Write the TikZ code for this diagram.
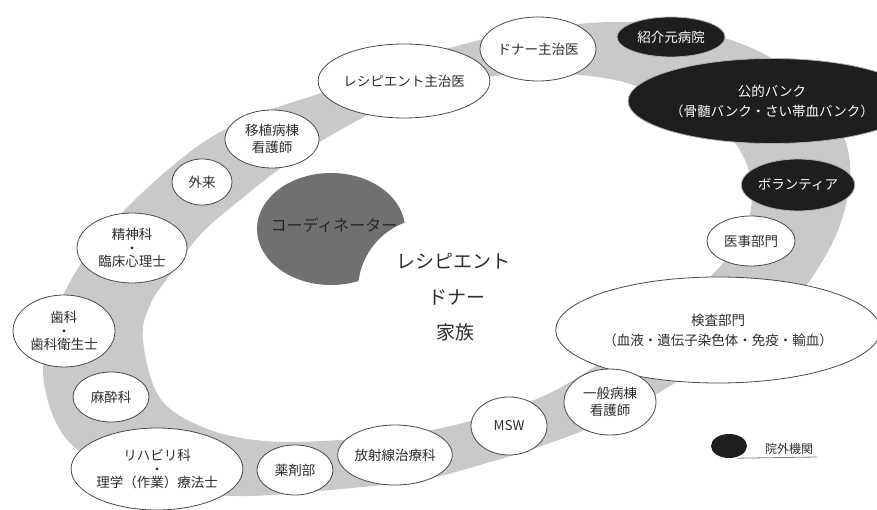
\documentclass[tikz,border=0pt]{standalone}
\usepackage{fontspec}
\newfontfamily\jp{Noto Sans CJK JP}
\usetikzlibrary{shapes.geometric}
\definecolor{bandgray}{HTML}{C9C9C9}
\definecolor{coordgray}{HTML}{707070}
\definecolor{darknode}{HTML}{1E1E1E}
\definecolor{inkgray}{HTML}{2E2E2E}
\definecolor{edgegray}{HTML}{4A4A4A}
\begin{document}
\begin{tikzpicture}[x=1pt,y=-1pt,
 wnode/.style={ellipse, draw=edgegray, line width=0.8pt, fill=white, inner sep=0pt, align=center, text=inkgray, font=\jp\fontsize{13.5}{17}\selectfont},
 dnode/.style={ellipse, draw=gray!60, line width=0.8pt, fill=darknode, inner sep=0pt, align=center, text=white, font=\jp\fontsize{13.5}{20}\selectfont},
 tri/.style={font=\jp\fontsize{13.5}{13.5}\selectfont},
 ctext/.style={font=\jp\fontsize{19}{19}\selectfont, text=inkgray, inner sep=0pt},
]
\useasboundingbox (0,0) rectangle (877,510);
% band
\fill[bandgray, even odd rule]
 plot[smooth cycle, tension=0.6] coordinates {(43,372) (55,315) (80,265) (120,215) (170,168) (215,135) (270,110) (330,90) (400,63) (480,40) (545,28) (610,22) (670,25) (725,38) (775,60) (820,95) (845,140) (850,180) (840,225) (820,265) (790,305) (740,345) (680,380) (620,415) (550,443) (480,465) (420,480) (330,490) (240,496) (160,488) (100,465) (60,430)}
 plot[smooth cycle, tension=0.6] coordinates {(143,340) (150,305) (170,275) (200,235) (240,200) (285,165) (335,133) (400,100) (470,80) (540,73) (615,80) (670,100) (720,128) (745,160) (752,200) (740,240) (712,275) (670,315) (620,350) (550,393) (480,418) (420,432) (340,440) (265,441) (205,428) (160,398)};
% coordinator
\begin{scope}[even odd rule]
 \clip (0,0) rectangle (877,510) (430,290) circle[radius=72];
 \fill[coordgray] (331,229) ellipse[x radius=74, y radius=56];
\end{scope}
\node[font=\jp\fontsize{16}{16}\selectfont, text=black!85, inner sep=0pt] (coord) at (334,225) {コーディネーター};
% centre
\node[ctext] (rcp) at (453,261) {レシピエント};
\node[ctext] (dnr) at (457,298) {ドナー};
\node[ctext] (fam) at (455,332) {家族};
% nodes
\node[wnode, minimum width=148pt, minimum height=74pt] (recdoc) at (404,81) {レシピエント主治医};
\node[wnode, minimum width=116pt, minimum height=64pt] (dondoc) at (538,49) {ドナー主治医};
\node[dnode, minimum width=108pt, minimum height=40pt] (shokai) at (671,37) {紹介元病院};
\node[dnode, minimum width=200pt, minimum height=85pt] (bank) at (772,101) {公的バンク\\（骨髄バンク・さい帯血バンク）};
\node[dnode, minimum width=94pt, minimum height=52pt] (vol) at (798,185) {ボランティア};
\node[wnode, minimum width=88pt, minimum height=50pt] (iji) at (751,241) {医事部門};
\node[wnode, minimum width=234pt, minimum height=106pt, font=\jp\fontsize{13.5}{20}\selectfont] (kensa) at (718,330) {検査部門\\（血液・遺伝子染色体・免疫・輸血）};
\node[wnode, minimum width=92pt, minimum height=66pt] (ippan) at (610,402) {一般病棟\\看護師};
\node[wnode, minimum width=76pt, minimum height=58pt] (msw) at (509,426) {MSW};
\node[wnode, minimum width=104pt, minimum height=60pt] (hosha) at (395,455) {放射線治療科};
\node[wnode, minimum width=76pt, minimum height=50pt] (yaku) at (295,470) {薬剤部};
\node[wnode, tri, minimum width=164pt, minimum height=82pt] (reha) at (157,469) {リハビリ科\\・\\理学（作業）療法士};
\node[wnode, minimum width=76pt, minimum height=50pt] (masui) at (111,397) {麻酔科};
\node[wnode, tri, minimum width=102pt, minimum height=72pt] (shika) at (64,331) {歯科\\・\\歯科衛生士};
\node[wnode, tri, minimum width=110pt, minimum height=70pt] (seishin) at (132,248) {精神科\\・\\臨床心理士};
\node[wnode, minimum width=60pt, minimum height=46pt] (gairai) at (202,182) {外来};
\node[wnode, minimum width=94pt, minimum height=58pt] (ishoku) at (272,139) {移植病棟\\看護師};
% legend
\node[ellipse, fill=darknode, inner sep=0pt, minimum width=36pt, minimum height=24pt] (legdot) at (729,446) {};
\node[font=\jp\fontsize{12}{12}\selectfont, text=inkgray, inner sep=0pt] (legtxt) at (789,449) {院外機関};
\coordinate (legend) at (817,457);
\draw[gray, line width=0.8pt] (legdot.south) ++(8,0) coordinate (legstart) (legstart) -- (legend);
\end{tikzpicture}
\end{document}
